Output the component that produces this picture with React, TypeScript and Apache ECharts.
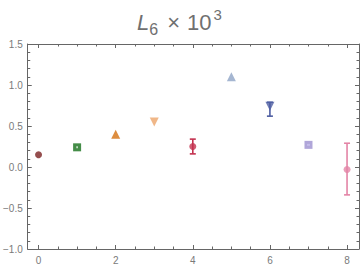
import React, { useEffect, useRef } from "react";
import * as echarts from "echarts";

// ---- data ----
const xValues = [0, 1, 2, 3, 4, 5, 6, 7, 8];
const yValues = [0.15, 0.24, 0.4, 0.55, 0.25, 1.1, 0.74, 0.27, -0.03];
const errLow = [0.15, 0.24, 0.4, 0.55, 0.16, 1.1, 0.62, 0.27, -0.34];
const errHigh = [0.15, 0.24, 0.4, 0.55, 0.34, 1.1, 0.79, 0.27, 0.29];
const xMajorTicks = [0, 2, 4, 6, 8];
const yMajorTicks = [-1.0, -0.5, 0, 0.5, 1.0, 1.5];

// ---- styles ----
const colors = ["#7b2222", "#16701a", "#d4700f", "#eca56a", "#c3324f", "#8fa4c6", "#4e5ea2", "#9c90d0", "#e384a6"];
const symbols = ["circle", "rect", "triangle", "triangle", "circle", "triangle", "triangle", "rect", "circle"];
const rotations = [0, 0, 0, 180, 0, 0, 180, 0, 0];
const sizes = [7, 8, 9, 9, 7, 9, 9, 8, 7];

const xMin = -0.28, xMax = 8.31, yMin = -1.0, yMax = 1.5;
const xMinorTicks: number[] = [];
for (let i = 1; i <= 16; i++) { const v = i * 0.5; if (v % 2 !== 0) xMinorTicks.push(v); }
const yMinorTicks: number[] = [];
for (let i = -9; i <= 14; i++) { if (i % 5 !== 0) yMinorTicks.push(i / 10); }

const FRAME = "#666666";
const LABEL = "#7a7a7a";
const TITLE = "#707070";
const FONT = "Liberation Sans, Arial, sans-serif";

function xAxisDef(position: "top" | "bottom", major: boolean, labels: boolean) {
  return {
    type: "value", position, min: xMin, max: xMax,
    axisLine: { show: major, onZero: false, lineStyle: { color: FRAME, width: 1 } },
    axisTick: { show: true, inside: true, length: major ? 4 : 2.5, customValues: major ? xMajorTicks : xMinorTicks, lineStyle: { color: FRAME, width: 1 } },
    axisLabel: { show: labels, customValues: xMajorTicks, margin: 6, color: LABEL, fontSize: 10, fontFamily: FONT, formatter: (v: number) => String(v) },
    splitLine: { show: false },
  };
}
function yAxisDef(position: "left" | "right", major: boolean, labels: boolean) {
  return {
    type: "value", position, min: yMin, max: yMax,
    axisLine: { show: major, onZero: false, lineStyle: { color: FRAME, width: 1 } },
    axisTick: { show: true, inside: true, length: major ? 4 : 2.5, customValues: major ? yMajorTicks : yMinorTicks, lineStyle: { color: FRAME, width: 1 } },
    axisLabel: { show: labels, customValues: yMajorTicks, margin: 5, color: LABEL, fontSize: 10, fontFamily: FONT, formatter: (v: number) => v.toFixed(1).replace("-", "\u2212") },
    splitLine: { show: false },
  };
}

export default function App() {
  const ref = useRef<HTMLDivElement>(null);
  useEffect(() => {
    document.body.style.margin = "0";
    const chart = echarts.init(ref.current!, null, { renderer: "svg" });
    const pointData = xValues.map((x, i) => ({
      value: [x, yValues[i]],
      symbol: symbols[i],
      symbolSize: sizes[i],
      symbolRotate: rotations[i],
      itemStyle: { color: colors[i] },
    }));
    const errData = xValues
      .map((x, i) => ({ value: [x, errLow[i], errHigh[i]], idx: i }))
      .filter((d) => d.value[2] - d.value[1] > 1e-9)
      .map((d) => ({ value: d.value, itemStyle: { color: colors[d.idx] } }));
    const highlightData = [1, 7].map((i) => ({
      value: [xValues[i], yValues[i]],
      itemStyle: { color: i === 1 ? "#ffffff" : "#c9c2ec" },
      symbolSize: i === 1 ? [1.5, 2] : [3, 2],
    }));

    const base = { fontFamily: FONT, color: TITLE, fontWeight: "normal" };
    chart.setOption({
      animation: false,
      title: {
        text: "{i|L}{sub|6}{x|\u00d7}{n|10}{sup|3}",
        left: 137, top: 7, padding: 0,
        textStyle: {
          fontWeight: "normal",
          rich: {
            i: { ...base, fontSize: 22, fontStyle: "italic", lineHeight: 30, verticalAlign: "middle" },
            x: { ...base, fontSize: 22, lineHeight: 30, verticalAlign: "middle", padding: [0, 7, 0, 9] },
            n: { ...base, fontSize: 22, lineHeight: 30, verticalAlign: "middle" },
            sub: { ...base, fontSize: 16, lineHeight: 18, verticalAlign: "bottom" },
            sup: { ...base, fontSize: 15, lineHeight: 9, verticalAlign: "top", padding: [0, 0, 0, 2] },
          },
        },
      },
      grid: { left: 26, top: 44, right: 1, bottom: 20, containLabel: false },
      xAxis: [xAxisDef("bottom", true, true), xAxisDef("bottom", false, false), xAxisDef("top", true, false), xAxisDef("top", false, false)],
      yAxis: [yAxisDef("left", true, true), yAxisDef("left", false, false), yAxisDef("right", true, false), yAxisDef("right", false, false)],
      series: [
        {
          type: "custom", xAxisIndex: 0, yAxisIndex: 0, z: 2,
          renderItem: (params: any, api: any) => {
            const x = api.value(0);
            const lo = api.coord([x, api.value(1)]);
            const hi = api.coord([x, api.value(2)]);
            const color = api.visual("color");
            const half = 3;
            const style = { stroke: color, lineWidth: 1.6 };
            return {
              type: "group",
              children: [
                { type: "line", shape: { x1: lo[0], y1: lo[1], x2: hi[0], y2: hi[1] }, style },
                { type: "line", shape: { x1: lo[0] - half, y1: lo[1], x2: lo[0] + half, y2: lo[1] }, style },
                { type: "line", shape: { x1: hi[0] - half, y1: hi[1], x2: hi[0] + half, y2: hi[1] }, style },
              ],
            };
          },
          encode: { x: 0, y: [1, 2] },
          data: errData,
        },
        { type: "scatter", xAxisIndex: 0, yAxisIndex: 0, z: 3, data: pointData },
        { type: "scatter", xAxisIndex: 0, yAxisIndex: 0, z: 4, symbol: "rect", data: highlightData },
      ],
    });
    return () => chart.dispose();
  }, []);
  return <div ref={ref} style={{ width: 360, height: 269 }} />;
}
